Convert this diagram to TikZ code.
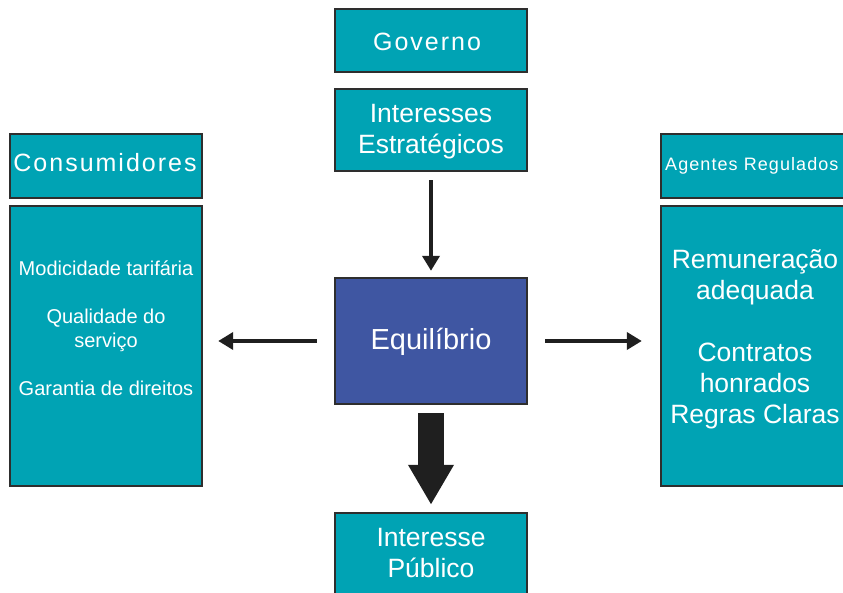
\documentclass[tikz,border=0pt]{standalone}
\usepackage{fontspec}
\setmainfont{Liberation Sans}
\newfontfamily\spaced[LetterSpace=8]{Liberation Sans}
\newfontfamily\spacedb[LetterSpace=6]{Liberation Sans}
\usetikzlibrary{arrows.meta}
\definecolor{teal1}{HTML}{00A3B4}
\definecolor{eqblue}{HTML}{3F56A2}
\definecolor{edge}{HTML}{2E2E2E}
\tikzset{
  box/.style={draw=edge, line width=1.8pt, fill=teal1, inner sep=0pt},
  lbl/.style={text=white, align=center, inner sep=0pt},
  thinarrow/.style={line width=4.5pt, draw=black!88, -{Triangle[length=15pt,width=17pt]}},
  bigarrow/.style={line width=26pt, draw=black!88, -{Triangle[length=40pt,width=43pt]}}
}
\begin{document}
\begin{tikzpicture}[x=1pt,y=-1pt]
\useasboundingbox (0,0) rectangle (843,593);
\clip (0,0) rectangle (843,593);
% boxes
\path[box] (335,9) rectangle (527,72);
\node[lbl, font=\spaced\fontsize{25}{30}\selectfont] (gov) at (427,42) {Governo};
\path[box] (335,89) rectangle (527,171);
\node (ie) at (431,130) [minimum width=192pt, minimum height=82pt] {};
\node[lbl, font=\fontsize{26.5}{31}\selectfont] (ietxt) at (431,132) {Interesses\\Estratégicos};

\path[box] (10,134) rectangle (202,198);
\node[lbl, font=\spaced\fontsize{25}{30}\selectfont] (cons) at (105,163) {Consumidores};
\path[box] (10,206) rectangle (202,486);
\node (lbox) at (106,346) [minimum width=192pt, minimum height=280pt] {};
\node[lbl, font=\fontsize{20}{24}\selectfont] (ltxt) at (106,328) {Modicidade tarifária\\[24pt]Qualidade do\\serviço\\[24pt]Garantia de direitos};

\path[box] (661,134) rectangle (853,198);
\node[lbl, font=\spacedb\fontsize{18}{22}\selectfont, anchor=west] (ag) at (665,166) {Agentes Regulados};
\path[box] (661,206) rectangle (853,486);
\node (rbox) at (757,346) [minimum width=192pt, minimum height=280pt] {};
\node[lbl, font=\fontsize{26.5}{31}\selectfont] (rtxt) at (755,339) {Remuneração\\adequada\\[31pt]Contratos\\honrados\\Regras Claras};

\path[box, fill=eqblue] (335,278) rectangle (527,404);
\node (eq) at (431,341) [minimum width=192pt, minimum height=126pt] {};
\node[lbl, font=\fontsize{29}{34}\selectfont] (eqtxt) at (431,342) {Equilíbrio};

\path[box] (335,513) rectangle (527,603);
\node (ip) at (431,558) [minimum width=192pt, minimum height=90pt] {};
\node[lbl, font=\fontsize{26.5}{31}\selectfont] (iptxt) at (431,553) {Interesse\\Público};

% arrows
\draw[thinarrow, shorten <=9pt, shorten >=7pt] (ie.south) -- (eq.north);
\draw[thinarrow, shorten <=18pt, shorten >=16pt] (eq.west) -- (eq.west -| lbox.east);
\draw[thinarrow, shorten <=18pt, shorten >=19pt] (eq.east) -- (eq.east -| rbox.west);
\draw[bigarrow, shorten <=9pt, shorten >=8pt] (eq.south) -- (ip.north);
\end{tikzpicture}
\end{document}
